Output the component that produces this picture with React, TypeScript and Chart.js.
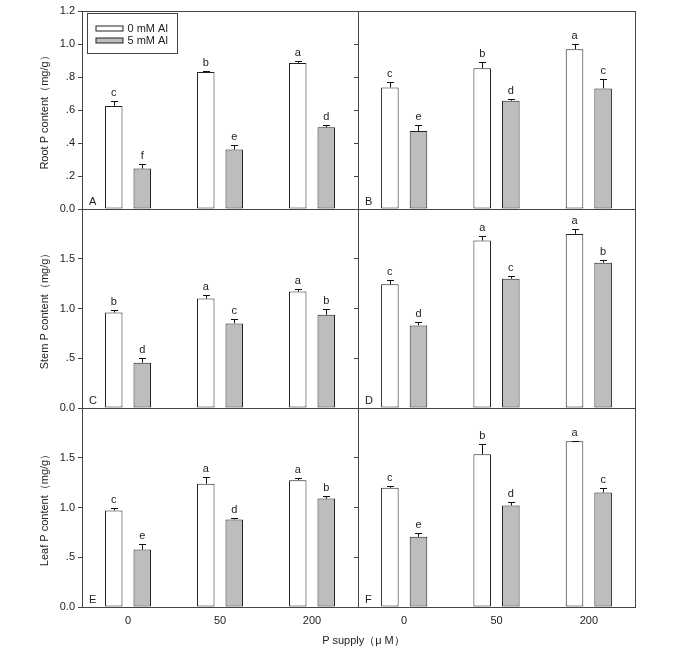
import React, { useEffect, useRef } from 'react';
import { Chart, registerables } from 'chart.js';

Chart.register(...registerables);

// ---------- data ----------
const pSupply = ['0', '50', '200'];
const seriesNames = ['0 mM Al', '5 mM Al'];
const rootTickLabels = ['0.0', '.2', '.4', '.6', '.8', '1.0', '1.2'];
const partTickLabels = ['0.0', '.5', '1.0', '1.5', ''];
const rowTitles = ['Root P content（mg/g）', 'Stem P content（mg/g）', 'Leaf P content（mg/g）'];
const xTitle = 'P supply（μ M）';

// Panel A – root, line 1
const rootA0 = [0.625, 0.83, 0.885];
const rootA0Err = [0.03, 0.006, 0.014];
const rootA5 = [0.245, 0.36, 0.495];
const rootA5Err = [0.027, 0.028, 0.015];
const rootA0Sig = ['c', 'b', 'a'];
const rootA5Sig = ['f', 'e', 'd'];
// Panel B – root, line 2
const rootB0 = [0.737, 0.853, 0.968];
const rootB0Err = [0.034, 0.036, 0.03];
const rootB5 = [0.473, 0.656, 0.731];
const rootB5Err = [0.036, 0.008, 0.055];
const rootB0Sig = ['c', 'b', 'a'];
const rootB5Sig = ['e', 'd', 'c'];
// Panel C – stem, line 1
const stemC0 = [0.96, 1.1, 1.17];
const stemC0Err = [0.02, 0.04, 0.03];
const stemC5 = [0.456, 0.85, 0.936];
const stemC5Err = [0.044, 0.04, 0.054];
const stemC0Sig = ['b', 'a', 'a'];
const stemC5Sig = ['d', 'c', 'b'];
// Panel D – stem, line 2
const stemD0 = [1.243, 1.683, 1.75];
const stemD0Err = [0.04, 0.05, 0.047];
const stemD5 = [0.83, 1.3, 1.46];
const stemD5Err = [0.03, 0.023, 0.03];
const stemD0Sig = ['c', 'a', 'a'];
const stemD5Sig = ['d', 'c', 'b'];
// Panel E – leaf, line 1
const leafE0 = [0.971, 1.239, 1.273];
const leafE0Err = [0.027, 0.07, 0.02];
const leafE5 = [0.578, 0.88, 1.09];
const leafE5Err = [0.06, 0.01, 0.03];
const leafE0Sig = ['c', 'a', 'a'];
const leafE5Sig = ['e', 'd', 'b'];
// Panel F – leaf, line 2
const leafF0 = [1.198, 1.535, 1.666];
const leafF0Err = [0.017, 0.104, 0.005];
const leafF5 = [0.705, 1.02, 1.152];
const leafF5Err = [0.04, 0.04, 0.044];
const leafF0Sig = ['c', 'b', 'a'];
const leafF5Sig = ['e', 'd', 'c'];

// ---------- styling ----------
const FONT = '"Liberation Sans", Arial, sans-serif';
const FRAME = '#444';
const TEXT = '#222';
const WHITE_FILL = '#ffffff';
const GRAY_FILL = '#bdbdbd';
const BAR_EDGE = '#222';

type Spec = {
  letter: string;
  v0: number[]; e0: number[]; s0: string[];
  v5: number[]; e5: number[]; s5: string[];
  yMax: number; yStep: number; tickLabels: string[];
  yTitle: string | null;
  showYLabels: boolean; showX: boolean; legend: boolean;
  left: number; top: number; width: number; height: number;
  padTop: number; padRight: number; yW: number; xH: number;
};

const framePlugin = {
  id: 'frame',
  afterDraw(chart: any) {
    const { ctx, chartArea } = chart;
    const l = Math.round(chartArea.left) + 0.5;
    const t = Math.round(chartArea.top) + 0.5;
    const r = Math.round(chartArea.right) + 0.5;
    const b = Math.round(chartArea.bottom) + 0.5;
    ctx.save();
    ctx.strokeStyle = FRAME;
    ctx.lineWidth = 1;
    ctx.strokeRect(l, t, r - l, b - t);
    ctx.restore();
  },
};

function makeDecorPlugin(spec: Spec) {
  return {
    id: 'decor',
    afterDatasetsDraw(chart: any) {
      const { ctx, chartArea } = chart;
      const yScale = chart.scales.y;
      const errs = [spec.e0, spec.e5];
      const sigs = [spec.s0, spec.s5];
      ctx.save();
      ctx.strokeStyle = '#111';
      ctx.lineWidth = 1;
      ctx.fillStyle = TEXT;
      ctx.font = `11px ${FONT}`;
      ctx.textAlign = 'center';
      ctx.textBaseline = 'alphabetic';
      for (let d = 0; d < 2; d++) {
        const meta = chart.getDatasetMeta(d);
        const vals = chart.data.datasets[d].data as number[];
        meta.data.forEach((el: any, i: number) => {
          const x = Math.round(el.x) + 0.5;
          const yTop = yScale.getPixelForValue(vals[i]);
          const yErr = Math.round(yScale.getPixelForValue(vals[i] + errs[d][i])) + 0.5;
          ctx.beginPath();
          ctx.moveTo(x, yTop);
          ctx.lineTo(x, yErr);
          ctx.moveTo(x - 3.5, yErr);
          ctx.lineTo(x + 3.5, yErr);
          ctx.stroke();
          ctx.fillText(sigs[d][i], el.x, yErr - 6);
        });
      }
      // panel letter
      ctx.textAlign = 'left';
      ctx.font = `11px ${FONT}`;
      ctx.fillText(spec.letter, chartArea.left + 7, chartArea.bottom - 4);
      // legend
      if (spec.legend) {
        const bx = Math.round(chartArea.left) + 5.5;
        const by = Math.round(chartArea.top) + 2.5;
        ctx.strokeStyle = FRAME;
        ctx.strokeRect(bx, by, 90, 40);
        const fills = [WHITE_FILL, GRAY_FILL];
        for (let k = 0; k < 2; k++) {
          const ry = by + 12.5 + k * 12;
          ctx.fillStyle = fills[k];
          ctx.fillRect(bx + 8.5, ry, 27, 5);
          ctx.strokeStyle = BAR_EDGE;
          ctx.strokeRect(bx + 8.5, ry, 27, 5);
          ctx.fillStyle = TEXT;
          ctx.textBaseline = 'middle';
          ctx.fillText(seriesNames[k], bx + 40, ry + 3);
        }
      }
      ctx.restore();
    },
  };
}

function Panel({ spec }: { spec: Spec }) {
  const ref = useRef<HTMLCanvasElement | null>(null);
  useEffect(() => {
    if (!ref.current) return;
    const chart = new Chart(ref.current, {
      type: 'bar',
      data: {
        labels: pSupply,
        datasets: [
          {
            label: seriesNames[0],
            data: spec.v0,
            backgroundColor: WHITE_FILL,
            borderColor: BAR_EDGE,
            borderWidth: 1,
            borderSkipped: false,
            categoryPercentage: 0.62,
            barPercentage: 0.614,
          },
          {
            label: seriesNames[1],
            data: spec.v5,
            backgroundColor: GRAY_FILL,
            borderColor: BAR_EDGE,
            borderWidth: 1,
            borderSkipped: false,
            categoryPercentage: 0.62,
            barPercentage: 0.614,
          },
        ],
      },
      options: {
        responsive: false,
        animation: false,
        devicePixelRatio: 1,
        layout: { padding: { top: spec.padTop, right: spec.padRight, bottom: 0, left: 0 } },
        plugins: { legend: { display: false }, tooltip: { enabled: false }, title: { display: false } },
        scales: {
          x: {
            type: 'category',
            offset: true,
            grid: { display: false, drawTicks: false },
            border: { display: false },
            ticks: {
              display: spec.showX,
              color: TEXT,
              font: { family: FONT, size: 11 },
              padding: 7,
              maxRotation: 0,
              autoSkip: false,
            },
            afterFit: (s: any) => { s.height = spec.xH; },
          },
          y: {
            min: 0,
            max: spec.yMax,
            border: { display: false },
            grid: {
              display: true,
              drawOnChartArea: false,
              drawTicks: true,
              tickLength: 4,
              color: FRAME,
            },
            ticks: {
              display: spec.showYLabels,
              stepSize: spec.yStep,
              color: TEXT,
              font: { family: FONT, size: 11 },
              padding: 3,
              callback: (_v: any, i: number) => spec.tickLabels[i] ?? '',
            },
            title: {
              display: !!spec.yTitle,
              text: spec.yTitle || '',
              color: TEXT,
              font: { family: FONT, size: 11 },
              padding: { top: 38, bottom: 0 },
            },
            afterFit: (s: any) => { s.width = spec.yW; },
          },
        },
      },
      plugins: [framePlugin, makeDecorPlugin(spec)],
    } as any);
    return () => chart.destroy();
  }, [spec]);
  return (
    <canvas
      ref={ref}
      width={spec.width}
      height={spec.height}
      style={{ position: 'absolute', left: spec.left, top: spec.top, width: spec.width, height: spec.height }}
    />
  );
}

const LEFT_COL = { left: 0, width: 365, padRight: 7, yW: 82, showYLabels: true };
const RIGHT_COL = { left: 340, width: 349, padRight: 54, yW: 18, showYLabels: false };
const ROW1 = { top: 0, padTop: 11, height: 11 + 198 + 10, xH: 10, showX: false, yMax: 1.2, yStep: 0.2, tickLabels: rootTickLabels };
const ROW2 = { top: 197, padTop: 12, height: 12 + 199 + 10, xH: 10, showX: false, yMax: 2.0, yStep: 0.5, tickLabels: partTickLabels };
const ROW3 = { top: 396, padTop: 12, height: 12 + 199 + 30, xH: 30, showX: true, yMax: 2.0, yStep: 0.5, tickLabels: partTickLabels };

const specs: Spec[] = [
  { ...LEFT_COL, ...ROW1, letter: 'A', v0: rootA0, e0: rootA0Err, s0: rootA0Sig, v5: rootA5, e5: rootA5Err, s5: rootA5Sig, yTitle: rowTitles[0], legend: true },
  { ...RIGHT_COL, ...ROW1, letter: 'B', v0: rootB0, e0: rootB0Err, s0: rootB0Sig, v5: rootB5, e5: rootB5Err, s5: rootB5Sig, yTitle: null, legend: false },
  { ...LEFT_COL, ...ROW2, letter: 'C', v0: stemC0, e0: stemC0Err, s0: stemC0Sig, v5: stemC5, e5: stemC5Err, s5: stemC5Sig, yTitle: rowTitles[1], legend: false },
  { ...RIGHT_COL, ...ROW2, letter: 'D', v0: stemD0, e0: stemD0Err, s0: stemD0Sig, v5: stemD5, e5: stemD5Err, s5: stemD5Sig, yTitle: null, legend: false },
  { ...LEFT_COL, ...ROW3, letter: 'E', v0: leafE0, e0: leafE0Err, s0: leafE0Sig, v5: leafE5, e5: leafE5Err, s5: leafE5Sig, yTitle: rowTitles[2], legend: false },
  { ...RIGHT_COL, ...ROW3, letter: 'F', v0: leafF0, e0: leafF0Err, s0: leafF0Sig, v5: leafF5, e5: leafF5Err, s5: leafF5Sig, yTitle: null, legend: false },
];

export default function App() {
  return (
    <div style={{ position: 'absolute', left: 0, top: 0, width: 689, height: 652, background: '#fff', overflow: 'hidden' }}>
      {specs.map((s) => (
        <Panel key={s.letter} spec={s} />
      ))}
      <div
        style={{
          position: 'absolute',
          left: 290,
          top: 632,
          width: 147,
          textAlign: 'center',
          font: `11px ${FONT}`,
          lineHeight: '16px',
          color: TEXT,
        }}
      >
        {xTitle}
      </div>
    </div>
  );
}
